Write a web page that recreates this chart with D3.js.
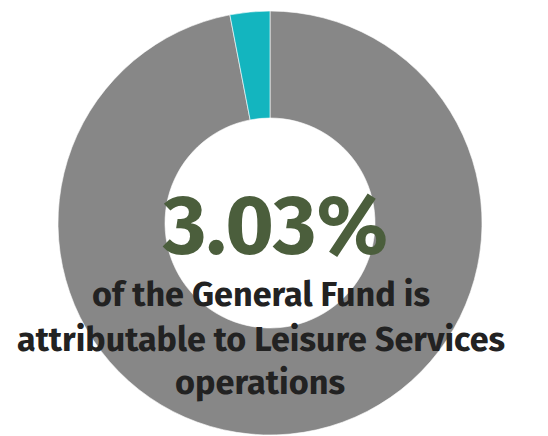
<!DOCTYPE html>
<html><head><meta charset="utf-8">
<script src="https://cdn.jsdelivr.net/npm/d3@7"></script>
<style>html,body{margin:0;padding:0;background:#fff;}svg{display:block;}</style>
</head><body>
<svg id="chart" width="548" height="436"></svg>
<script>
const categories = ["Other General Fund", "Leisure Services"];
const values = [96.97, 3.03];
const colors = ["#878787", "#13b5bf"];
const headline = "3.03%";
const subtitleLines = ["of the General Fund is", "attributable to Leisure Services", "operations"];

const svg = d3.select("#chart");
const cx = 270, cy = 223, rOuter = 212, rInner = 105;
const g = svg.append("g").attr("transform", `translate(${cx},${cy})`);
const pie = d3.pie().sort(null).value(d => d)(values);
const arc = d3.arc().innerRadius(rInner).outerRadius(rOuter);
g.selectAll("path").data(pie).join("path")
  .attr("d", arc)
  .attr("fill", (d, i) => colors[i])
  .attr("stroke", "#fff").attr("stroke-width", 0.6);

const font = "'Fira Sans','Noto Sans','Open Sans',sans-serif";
svg.append("text").text(headline)
  .attr("x", 275.5).attr("y", 254)
  .attr("text-anchor", "middle")
  .attr("font-family", font).attr("font-weight", 700)
  .attr("font-size", 84).attr("fill", "#4b5e3c")
  .attr("textLength", 225).attr("lengthAdjust", "spacingAndGlyphs");

const widths = [338, 488, 170];
const centers = [261, 261, 260];
const baselines = [306, 351, 394];
subtitleLines.forEach((t, i) => {
  svg.append("text").text(t)
    .attr("x", centers[i]).attr("y", baselines[i])
    .attr("text-anchor", "middle")
    .attr("font-family", font).attr("font-weight", 700)
    .attr("font-size", 34).attr("fill", "#222")
    .attr("textLength", widths[i]).attr("lengthAdjust", "spacingAndGlyphs");
});
</script>
</body></html>
